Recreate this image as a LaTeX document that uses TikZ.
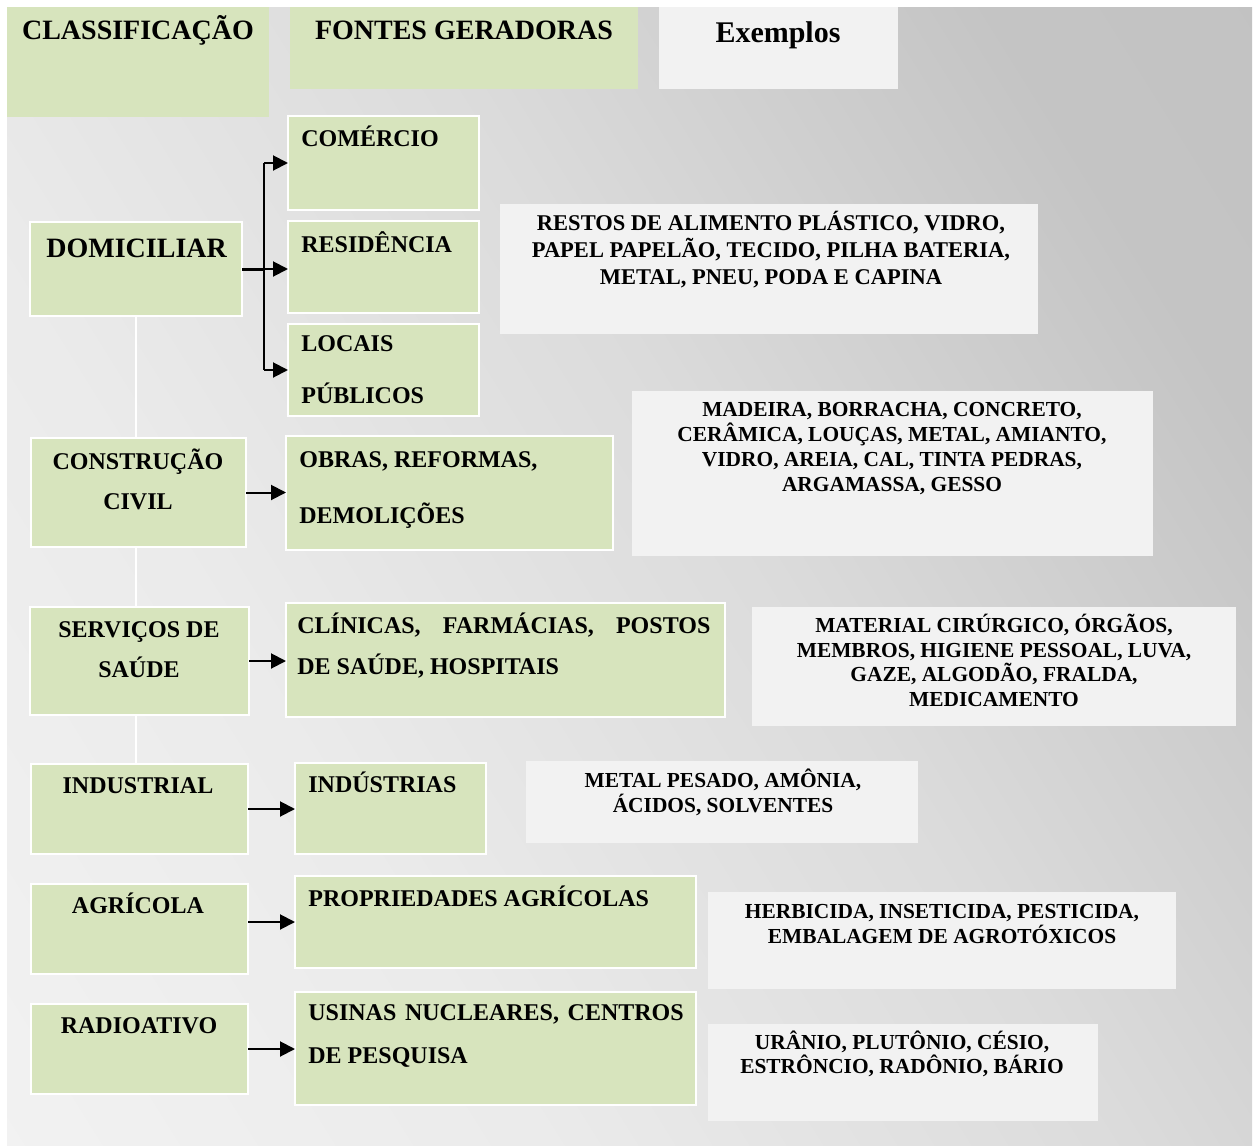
\documentclass[tikz,border=0pt]{standalone}
\usepackage{fontspec}
\setmainfont{Liberation Serif}
\usetikzlibrary{arrows.meta,calc}
\definecolor{gfill}{HTML}{D7E4BD}
\definecolor{efill}{HTML}{F2F2F2}
\pgfdeclareverticalshading{bgshade}{100bp}{color(0bp)=(white!97!black); color(35bp)=(white!92!black); color(55bp)=(white!86!black); color(75bp)=(white!77!black); color(100bp)=(white!75!black)}
\pgfdeclarelayer{bg}
\pgfdeclarelayer{background}
\pgfsetlayers{bg,background,main}
% style, name, x1, y1, x2, y2  (pixel coordinates)
\newcommand{\mkbox}[6]{%
  \node[#1, anchor=north west, minimum width={(#5-#3)*0.5pt}, minimum height={(#6-#4)*0.5pt}] (#2) at (#3,#4) {};}
\tikzset{
  hdbox/.style={fill=gfill, inner sep=0pt, outer sep=0pt},
  exhdbox/.style={fill=efill, inner sep=0pt, outer sep=0pt},
  gbox/.style={fill=gfill, draw=white, line width=1pt, inner sep=0pt, outer sep=0pt},
  exbox/.style={fill=efill, inner sep=0pt, outer sep=0pt},
  hdtext/.style={font=\bfseries\fontsize{14}{16}\selectfont, inner sep=0pt, anchor=base},
  bigtext/.style={font=\bfseries\fontsize{14}{16}\selectfont, inner sep=0pt, anchor=base west},
  lt/.style={font=\bfseries\fontsize{12}{#1}\selectfont, inner sep=0pt, anchor=base west, align=left},
  ct/.style={font=\bfseries\fontsize{12}{#1}\selectfont, inner sep=0pt, anchor=base, align=center},
  ext/.style={font=\bfseries\fontsize{10.7}{#1}\selectfont, inner sep=0pt, anchor=base, align=center},
  arr/.style={-{Triangle[length=7.5pt,width=7.5pt]}, line width=1pt, black},
  trunk/.style={line width=1pt, black},
  guide/.style={white, line width=1pt}
}
\begin{document}
\begin{tikzpicture}[x=0.5pt,y=-0.5pt]
\useasboundingbox (0,0) rectangle (1255,1146);
\begin{pgfonlayer}{bg}
  \shade[shading=bgshade, shading angle=-58] (7,7) rectangle (1252,1146);
\end{pgfonlayer}

% header
\mkbox{hdbox}{hcls}{7}{7}{269}{117}
\mkbox{hdbox}{hfon}{290}{7}{638}{89}
\mkbox{exhdbox}{hexe}{659}{7}{898}{89}
\node[hdtext] (thcls) at (138,39) {CLASSIFICAÇÃO};
\node[hdtext] (thfon) at (464,39) {FONTES GERADORAS};
\node[hdtext, font=\bfseries\fontsize{15}{17}\selectfont] (thexe) at (778,42) {Exemplos};

% classification column (multi-line nodes are placed by the baseline of their last line)
\mkbox{gbox}{dom}{30}{222}{242}{316}
\mkbox{gbox}{con}{31}{438}{246}{547}
\mkbox{gbox}{ser}{30}{607}{249}{715}
\mkbox{gbox}{ind}{31}{764}{248}{854}
\mkbox{gbox}{agr}{31}{884}{248}{974}
\mkbox{gbox}{rad}{31}{1004}{248}{1094}
\node[bigtext] (tdom) at (46,257) {DOMICILIAR};
\node[ct=20pt] (tcon) at (138,509) {CONSTRUÇÃO\\CIVIL};
\node[ct=20pt] (tser) at (139,677) {SERVIÇOS DE\\SAÚDE};
\node[ct=14pt] (tind) at (138,793) {INDUSTRIAL};
\node[ct=14pt] (tagr) at (138,913) {AGRÍCOLA};
\node[ct=14pt] (trad) at (139,1033) {RADIOATIVO};

% sources column
\mkbox{gbox}{com}{288}{116}{479}{210}
\mkbox{gbox}{res}{288}{221}{479}{313}
\mkbox{gbox}{loc}{288}{324}{479}{416}
\mkbox{gbox}{obr}{286}{436}{613}{550}
\mkbox{gbox}{cli}{286}{603}{725}{717}
\mkbox{gbox}{inu}{295}{763}{486}{854}
\mkbox{gbox}{pro}{295}{876}{696}{968}
\mkbox{gbox}{usi}{295}{992}{696}{1105}
\node[lt=14pt] (tcom) at (301,146) {COMÉRCIO};
\node[lt=14pt] (tres) at (301,252) {RESIDÊNCIA};
\node[lt=26pt] (tloc) at (301,403) {LOCAIS\\PÚBLICOS};
\node[lt=28pt] (tobr) at (299,523) {OBRAS, REFORMAS,\\DEMOLIÇÕES};
\node[lt=20.5pt] (tcli) at (297,674) {\makebox[206.5pt][l]{CLÍNICAS,\hfill FARMÁCIAS,\hfill POSTOS}\\DE SAÚDE, HOSPITAIS};
\node[lt=14pt] (tinu) at (308,792) {INDÚSTRIAS};
\node[lt=14pt] (tpro) at (308,906) {PROPRIEDADES AGRÍCOLAS};
\node[lt=21.5pt] (tusi) at (308,1063) {\makebox[187.7pt][l]{USINAS\hfill NUCLEARES,\hfill CENTROS}\\DE PESQUISA};

% examples column
\mkbox{exbox}{ex1}{500}{204}{1038}{334}
\mkbox{exbox}{ex2}{632}{391}{1153}{556}
\mkbox{exbox}{ex3}{752}{607}{1236}{726}
\mkbox{exbox}{ex4}{526}{761}{918}{843}
\mkbox{exbox}{ex5}{708}{892}{1176}{989}
\mkbox{exbox}{ex6}{708}{1024}{1098}{1121}
\node[ext=13.35pt, font=\bfseries\fontsize{11.25}{13.35}\selectfont] (tex1) at (771,284) {RESTOS DE ALIMENTO PLÁSTICO, VIDRO,\\PAPEL PAPELÃO, TECIDO, PILHA BATERIA,\\METAL, PNEU, PODA E CAPINA};
\node[ext=12.4pt] (tex2) at (892,491) {MADEIRA, BORRACHA, CONCRETO,\\CERÂMICA, LOUÇAS, METAL, AMIANTO,\\VIDRO, AREIA, CAL, TINTA PEDRAS,\\ARGAMASSA, GESSO};
\node[ext=12.25pt] (tex3) at (994,706) {MATERIAL CIRÚRGICO, ÓRGÃOS,\\MEMBROS, HIGIENE PESSOAL, LUVA,\\GAZE, ALGODÃO, FRALDA,\\MEDICAMENTO};
\node[ext=12.5pt] (tex4) at (723,812) {METAL PESADO, AMÔNIA,\\ÁCIDOS, SOLVENTES};
\node[ext=12.2pt] (tex5) at (942,943) {HERBICIDA, INSETICIDA, PESTICIDA,\\EMBALAGEM DE AGROTÓXICOS};
\node[ext=12pt] (tex6) at (902,1073) {URÂNIO, PLUTÔNIO, CÉSIO,\\ESTRÔNCIO, RADÔNIO, BÁRIO};

% faint guide line behind the left column
\begin{pgfonlayer}{background}
  \draw[guide] (dom.south) -- (dom.south |- ind.north);
\end{pgfonlayer}

% connectors
\draw[trunk, line width=1.5pt] (dom.east) -- ++(22,0) coordinate (br);
\draw[trunk] (br |- com.west) -- (br |- loc.west);
\draw[arr] (br |- com.west) -- (com.west);
\draw[arr] (br) -- (res.west |- br);
\draw[arr] (br |- loc.west) -- (loc.west);
\draw[arr] (con.east) -- (con.east -| obr.west);
\draw[arr] (ser.east) -- (ser.east -| cli.west);
\draw[arr] (ind.east) -- (ind.east -| inu.west);
\draw[arr] ([yshift=3.5pt]agr.east) -- ([yshift=3.5pt]agr.east -| pro.west);
\draw[arr] (rad.east) -- (rad.east -| usi.west);
\end{tikzpicture}
\end{document}
